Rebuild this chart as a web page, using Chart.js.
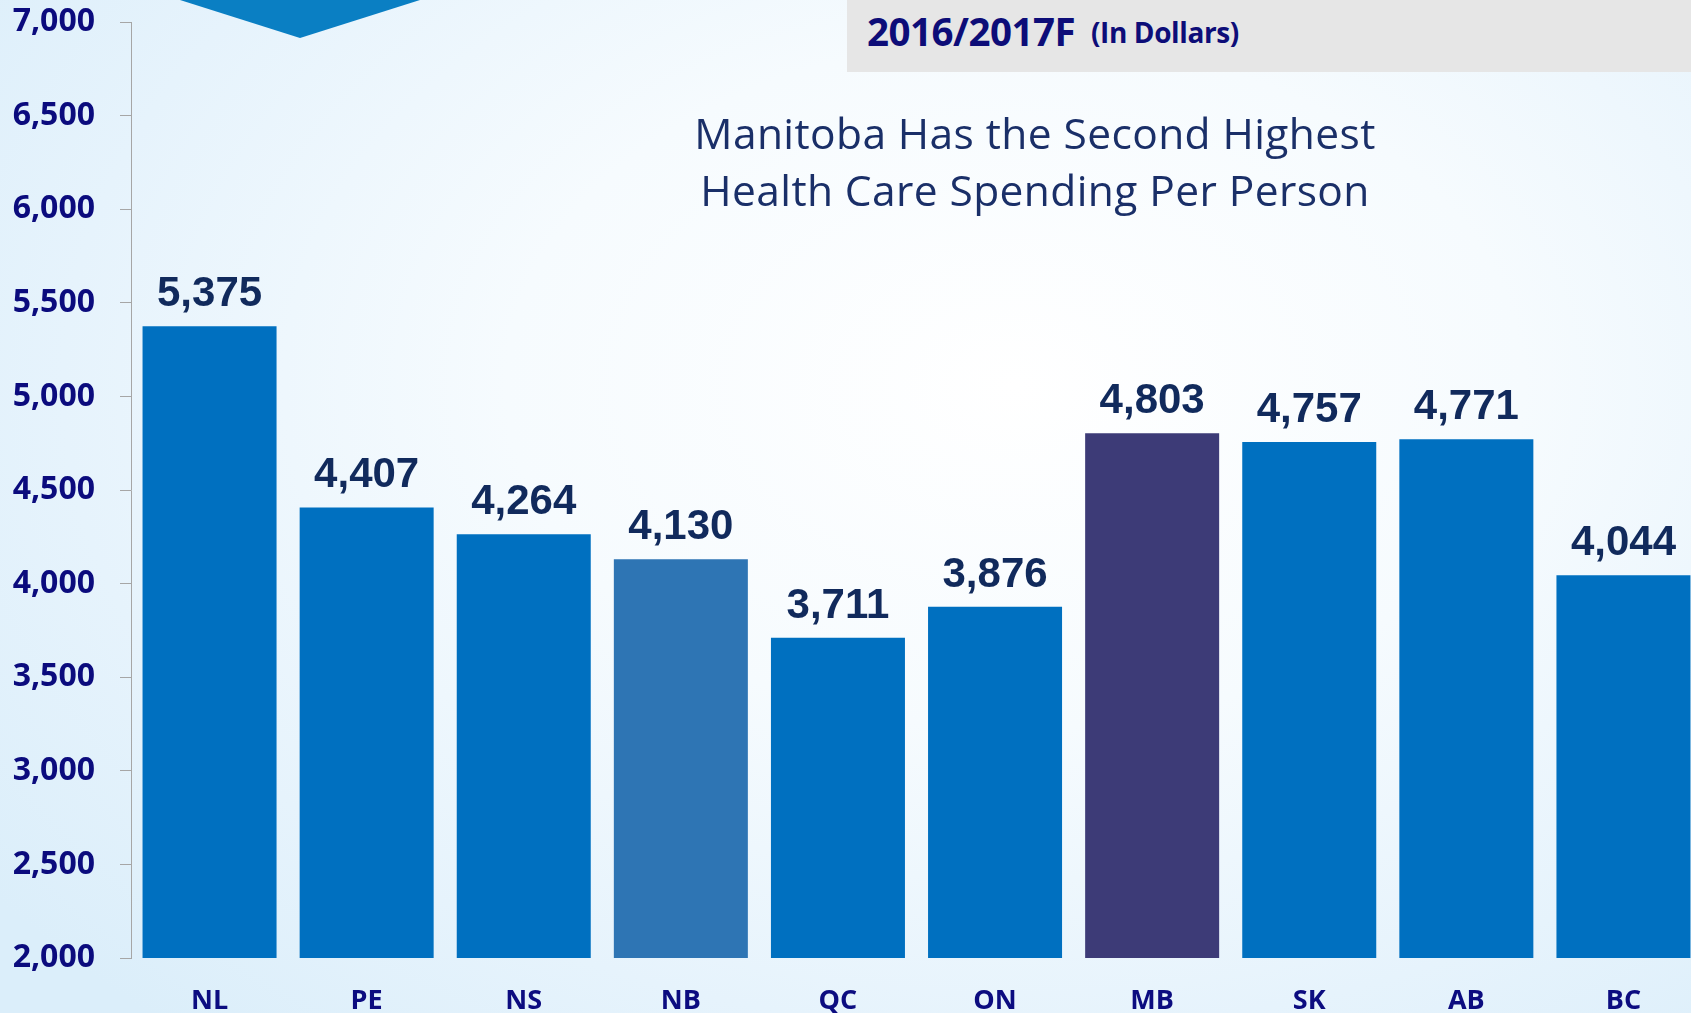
<!DOCTYPE html>
<html>
<head>
<meta charset="utf-8">
<script src="https://cdn.jsdelivr.net/npm/chart.js@4.4.1/dist/chart.umd.min.js"></script>
<style>
  html, body {
    margin: 0;
    padding: 0;
    width: 1691px;
    height: 1013px;
    overflow: hidden;
  }
  body {
    position: relative;
    background: radial-gradient(ellipse 75% 85% at 60% 38%, #ffffff 0%, #f6fbfe 40%, #e6f3fc 75%, #dbeefa 100%);
  }
  #wrap {
    position: absolute;
    left: 0;
    top: 0;
    width: 1703px;
    height: 1013px;
  }
  .period-box {
    position: absolute;
    left: 847px;
    top: 0;
    width: 844px;
    height: 72px;
    background: #e6e6e6;
  }
  .period-box span.big {
    position: absolute;
    left: 20px;
    top: 6px;
    font-family: 'Open Sans', sans-serif;
    font-weight: 700;
    font-size: 38.5px;
    line-height: 50px;
    color: #0d0d78;
    letter-spacing: -0.5px;
    white-space: nowrap;
  }
  .period-box span.small {
    position: absolute;
    left: 244px;
    top: 12px;
    font-family: 'Open Sans', sans-serif;
    font-weight: 700;
    font-size: 28px;
    line-height: 40px;
    color: #0d0d78;
    letter-spacing: -0.4px;
    white-space: nowrap;
  }
  .headline {
    position: absolute;
    left: 585px;
    width: 900px;
    top: 104px;
    text-align: center;
    font-family: 'Open Sans', sans-serif;
    font-size: 42.5px;
    line-height: 57px;
    color: #1a2f68;
    letter-spacing: 0.4px;
  }
</style>
</head>
<body>
<div id="wrap"><canvas id="chart-spending"></canvas></div>
<div class="period-box"><span class="big">2016/2017F</span><span class="small">(In Dollars)</span></div>
<div class="headline">Manitoba Has the Second Highest<br>Health Care Spending Per Person</div>
<script>
const provinces = ['NL', 'PE', 'NS', 'NB', 'QC', 'ON', 'MB', 'SK', 'AB', 'BC'];
const spendingPerPerson = [5375, 4407, 4264, 4130, 3711, 3876, 4803, 4757, 4771, 4044];
const yTicks = [2000, 2500, 3000, 3500, 4000, 4500, 5000, 5500, 6000, 6500, 7000];

const barColors = provinces.map(p => {
  if (p === 'MB') return '#3d3b77';
  if (p === 'NB') return '#2e75b4';
  return '#0070c0';
});

// blue chevron hanging from the top edge
const chevronPlugin = {
  id: 'chevron',
  beforeDraw(chart) {
    const ctx = chart.ctx;
    ctx.save();
    ctx.fillStyle = '#0a7fc3';
    ctx.beginPath();
    ctx.moveTo(180, 0);
    ctx.lineTo(420, 0);
    ctx.lineTo(300, 38);
    ctx.closePath();
    ctx.fill();
    ctx.restore();
  }
};

// value labels above each bar
const valueLabels = {
  id: 'valueLabels',
  afterDatasetsDraw(chart) {
    const ctx = chart.ctx;
    const meta = chart.getDatasetMeta(0);
    ctx.save();
    ctx.font = 'bold 42px "Liberation Sans", Arial, sans-serif';
    ctx.fillStyle = '#112a5c';
    ctx.textAlign = 'center';
    ctx.textBaseline = 'alphabetic';
    meta.data.forEach((bar, i) => {
      ctx.fillText(spendingPerPerson[i].toLocaleString('en-US'), bar.x, bar.y - 20);
    });
    ctx.restore();
  }
};

const ctx = document.getElementById('chart-spending').getContext('2d');
new Chart(ctx, {
  type: 'bar',
  data: {
    labels: provinces,
    datasets: [{
      data: spendingPerPerson,
      backgroundColor: barColors,
      borderWidth: 0,
      barPercentage: 0.853,
      categoryPercentage: 1.0
    }]
  },
  options: {
    responsive: true,
    maintainAspectRatio: false,
    animation: false,
    layout: {
      padding: { top: 22, left: 0, right: 1, bottom: 0 }
    },
    plugins: {
      legend: { display: false },
      tooltip: { enabled: false }
    },
    scales: {
      x: {
        grid: { display: false, drawTicks: false },
        border: { display: false },
        afterFit(axis) {
          axis.height = 55;
          axis.paddingLeft = 0;
          axis.paddingRight = 0;
        },
        ticks: {
          color: '#0c0c80',
          padding: 27,
          font: { family: 'Open Sans', size: 27, weight: 'bold' }
        }
      },
      y: {
        min: 2000,
        max: 7000,
        afterBuildTicks(axis) {
          axis.ticks = yTicks.map(v => ({ value: v }));
        },
        afterFit(axis) {
          axis.width = 131;
          axis.paddingTop = 0;
          axis.paddingBottom = 0;
        },
        grid: {
          drawOnChartArea: false,
          drawTicks: true,
          tickLength: 11,
          tickColor: '#a6a6a6'
        },
        border: { display: true, color: '#a6a6a6', width: 1 },
        ticks: {
          color: '#0b0b7d',
          padding: 25,
          font: { family: 'Open Sans', size: 32, weight: 'bold' },
          callback: v => v.toLocaleString('en-US')
        }
      }
    }
  },
  plugins: [chevronPlugin, valueLabels]
});
</script>
</body>
</html>
